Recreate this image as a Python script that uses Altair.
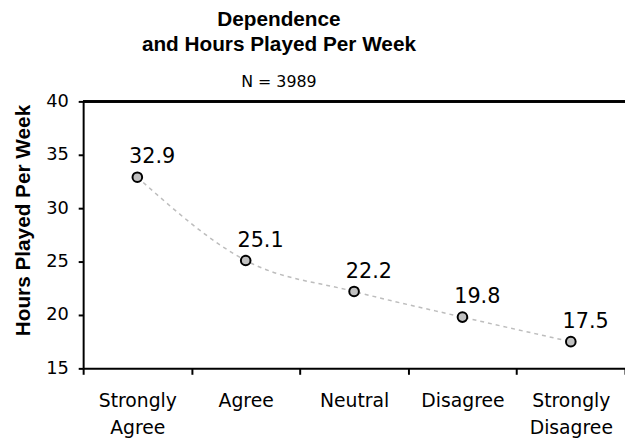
import altair as alt
import pandas as pd

categories = ["Strongly Agree", "Agree", "Neutral", "Disagree", "Strongly Disagree"]
hours = [32.9, 25.1, 22.2, 19.8, 17.5]
y_ticks = [15, 20, 25, 30, 35, 40]
y_min, y_max = 15, 40

df = pd.DataFrame({"category": categories, "hours": hours})

x_enc = alt.X(
    "category:N",
    sort=categories,
    scale=alt.Scale(paddingInner=0, paddingOuter=0),
    axis=alt.Axis(
        title=None,
        labelAngle=0,
        labelExpr="split(datum.label, ' ')",
        tickBand="extent",
        labelFont="DejaVu Sans",
        labelFontSize=19,
        labelColor="black",
        labelLineHeight=27,
        labelPadding=18,
        tickSize=6,
        tickWidth=2,
        tickColor="black",
        domainColor="black",
        domainWidth=2,
        grid=False,
    ),
)
y_enc = alt.Y(
    "hours:Q",
    scale=alt.Scale(domain=[y_min, y_max], nice=False, zero=False),
    axis=alt.Axis(
        title="Hours Played Per Week",
        titleFont="Liberation Sans",
        titleFontSize=21,
        titleFontWeight="bold",
        titleColor="black",
        titleX=-54,
        titleY=120,
        titleBaseline="alphabetic",
        values=y_ticks,
        labelFont="DejaVu Sans",
        labelFontSize=18,
        labelColor="black",
        labelPadding=10,
        tickSize=5,
        tickWidth=2,
        tickColor="black",
        domainColor="black",
        domainWidth=2,
        grid=False,
    ),
)

base = alt.Chart(df)

line = base.mark_line(
    interpolate="monotone", color="#bdbdbd", strokeWidth=1.5, strokeDash=[4, 4]
).encode(x=x_enc, y=y_enc)

points = base.mark_point(
    filled=True, size=95, fill="#c0c0c0", stroke="black", strokeWidth=2, opacity=1
).encode(x=x_enc, y=y_enc)

labels = base.mark_text(
    font="DejaVu Sans", fontSize=21, color="black", align="center",
    baseline="alphabetic", dx=15, dy=-14
).encode(x=x_enc, y=y_enc, text=alt.Text("hours:Q", format=".1f"))

top_rule = base.mark_rule(color="black", strokeWidth=2).encode(y=alt.datum(y_max))

chart = alt.layer(line, top_rule, points, labels).properties(
    width=548,
    height=270,
    autosize=alt.AutoSizeParams(type="none"),
    padding={"left": 76, "top": 92, "right": 0, "bottom": 70},
    title=alt.TitleParams(
        text=["Dependence", "and Hours Played Per Week"],
        subtitle="N = 3989",
        font="Liberation Sans",
        fontSize=21,
        fontWeight="bold",
        color="black",
        lineHeight=25,
        subtitleFont="DejaVu Sans",
        subtitleFontSize=16,
        subtitleColor="black",
        subtitlePadding=19,
        anchor="middle",
        frame="group",
        dx=-76,
        offset=3,
    ),
).configure_view(strokeWidth=0)

chart.save("out.html", embed_options={"renderer": "svg", "actions": False})
